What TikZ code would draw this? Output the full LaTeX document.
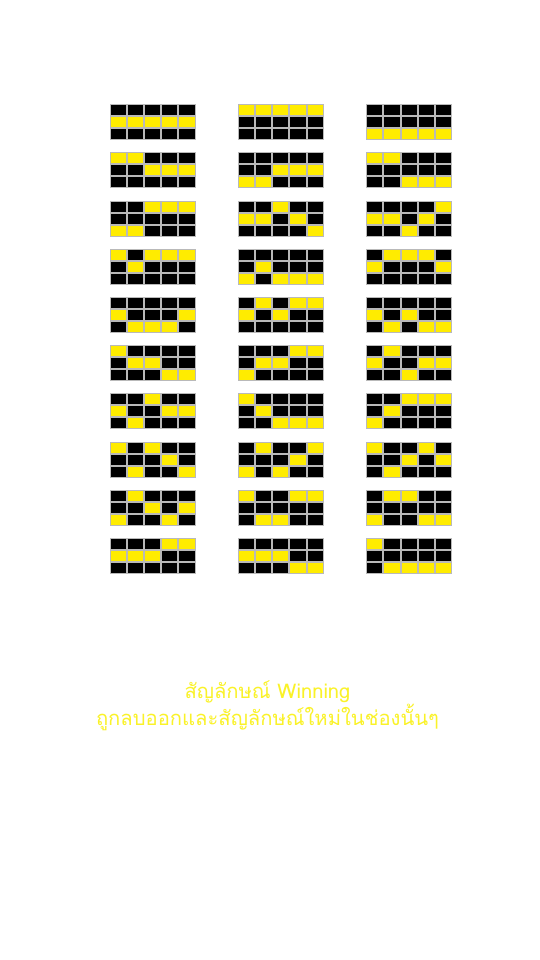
\documentclass[tikz,border=0pt]{standalone}
\usepackage{fontspec}
\newfontfamily\thaifont[Script=Thai]{Loma}
\definecolor{sym}{RGB}{255,236,0}
\definecolor{txty}{RGB}{250,242,40}
\definecolor{glow}{RGB}{255,250,170}
\definecolor{cellline}{RGB}{185,185,185}
\tikzset{
  blk/.style={fill=black,draw=cellline,line width=0.8pt},
  ylw/.style={fill=sym,draw=cellline,line width=0.8pt},
  lbl/.style={text=txty,font=\thaifont\fontsize{20.2}{24}\selectfont,inner sep=0pt,anchor=base}
}
\newcommand\payline[3]{%
  \foreach \cc in {0,...,4}{\foreach \rr in {0,1,2}{
    \path[blk] ({#1+\cc*17.2+0.5},{#2+\rr*12+0.5}) rectangle ++(16.2,11);}}
  \foreach \r [count=\cc from 0] in {#3}{
    \path[ylw] ({#1+\cc*17.2+0.5},{#2+\r*12+0.5}) rectangle ++(16.2,11);}
}
\begin{document}
\begin{tikzpicture}[x=1pt,y=-1pt]
\path[fill=white] (0,0) rectangle (540,960);
% column 1
\payline{109.5}{104}{1,1,1,1,1}
\payline{109.5}{152.2}{0,0,1,1,1}
\payline{109.5}{200.4}{2,2,0,0,0}
\payline{109.5}{248.6}{0,1,0,0,0}
\payline{109.5}{296.8}{1,2,2,2,1}
\payline{109.5}{345}{0,1,1,2,2}
\payline{109.5}{393.2}{1,2,0,1,1}
\payline{109.5}{441.4}{0,2,0,1,2}
\payline{109.5}{489.6}{2,0,1,2,1}
\payline{109.5}{537.8}{1,1,1,0,0}
% column 2
\payline{237.7}{104}{0,0,0,0,0}
\payline{237.7}{152.2}{2,2,1,1,1}
\payline{237.7}{200.4}{1,1,0,1,2}
\payline{237.7}{248.6}{2,1,2,2,2}
\payline{237.7}{296.8}{1,0,1,0,0}
\payline{237.7}{345}{2,1,1,0,0}
\payline{237.7}{393.2}{0,1,2,2,2}
\payline{237.7}{441.4}{2,0,2,1,0}
\payline{237.7}{489.6}{0,2,2,0,0}
\payline{237.7}{537.8}{1,1,1,2,2}
% column 3
\payline{366}{104}{2,2,2,2,2}
\payline{366}{152.2}{0,0,2,2,2}
\payline{366}{200.4}{1,1,2,1,0}
\payline{366}{248.6}{1,0,0,0,1}
\payline{366}{296.8}{1,2,1,2,2}
\payline{366}{345}{1,0,2,1,1}
\payline{366}{393.2}{2,1,0,0,0}
\payline{366}{441.4}{0,2,1,0,1}
\payline{366}{489.6}{2,0,0,2,2}
\payline{366}{537.8}{0,2,2,2,2}
% caption
\node[lbl] (l1) at (267.5,698.5) {สัญลักษณ์ Winning};
\node[lbl] (l2) at (267.5,725) {ถูกลบออกและสัญลักษณ์ใหม่ในช่องนั้นๆ};
\end{tikzpicture}
\end{document}
